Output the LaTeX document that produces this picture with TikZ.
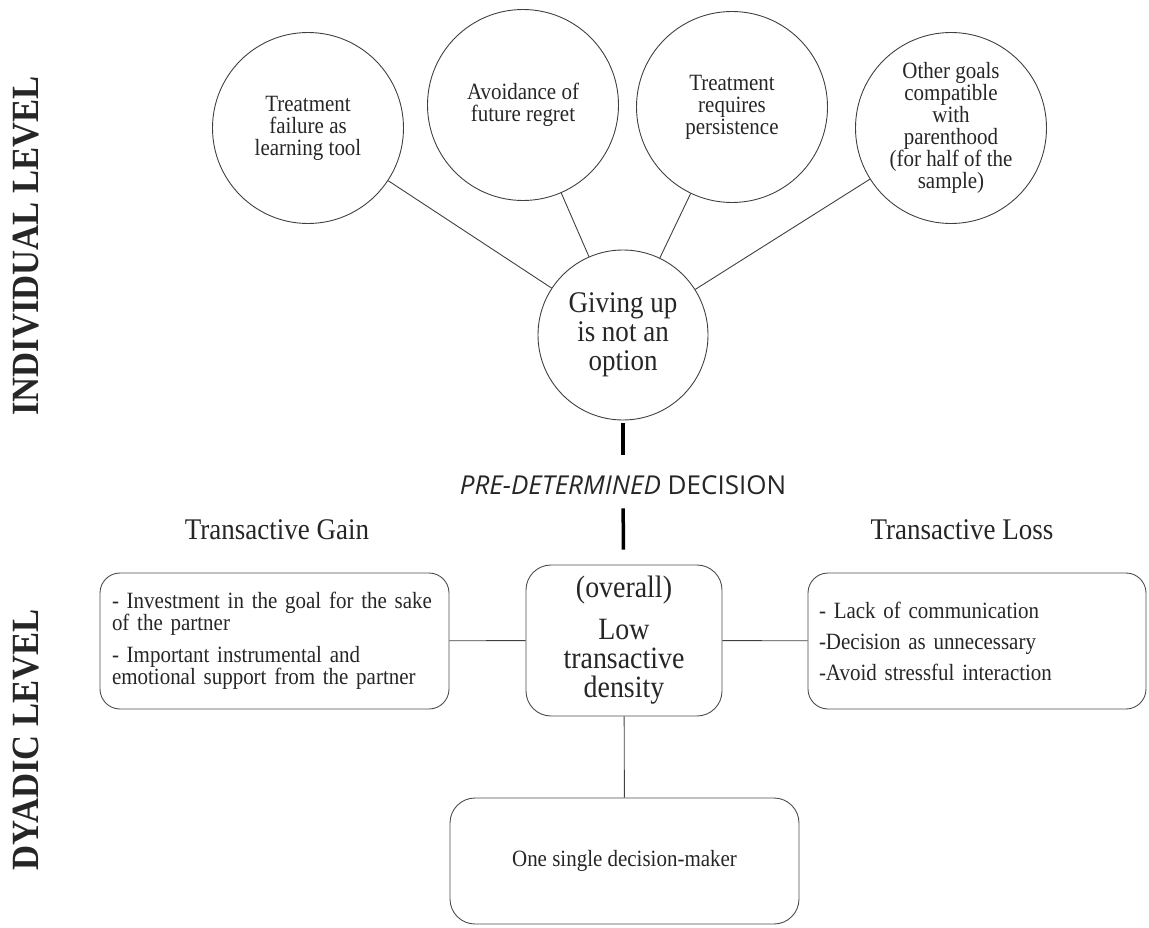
\documentclass[tikz,border=0pt]{standalone}
\usepackage{fontspec}
\setmainfont[FakeStretch=0.9]{Liberation Serif}
\newfontfamily\decfont{Open Sans}

\begin{document}
\begin{tikzpicture}[x=1pt,y=-1pt,
    every node/.style={text=black!85},
    goal/.style={draw=black!75, line width=0.9pt, circle, minimum size=191pt, inner sep=0pt,
      align=center, font=\fontsize{23.3}{22}\selectfont},
    box/.style={draw=black!70, line width=0.9pt, rounded corners=20pt, inner sep=0pt,
      font=\fontsize{23.3}{22}\selectfont},
    lvl/.style={rotate=90, font=\fontsize{38.5}{38.5}\selectfont\bfseries},
    head/.style={font=\fontsize{30}{30}\selectfont},
    link/.style={draw=black!75, line width=0.9pt},
    bar/.style={draw=black, line width=3.5pt}
  ]
    \useasboundingbox (0,0) rectangle (1149,928);

    % side labels
    \node[lvl] (indiv) at (26,246) {INDIVIDUAL LEVEL};
    \node[lvl] (dyad) at (26,740) {DYADIC LEVEL};

    % individual level
    \node[goal] (c1) at (308,128) {Treatment\\failure as\\learning tool};
    \node[goal] (c2) at (523,105) {Avoidance of\\future regret};
    \node[goal] (c3) at (732,107) {Treatment\\requires\\persistence};
    \node[goal] (c4) at (951,128) {Other goals\\compatible\\with\\parenthood\\(for half of the\\sample)};
    \node[goal, minimum size=170pt, font=\fontsize{30}{29}\selectfont] (hub) at (623,335)
      {Giving up\\is not an\\option};
    \foreach \g in {c1,c2,c3,c4}
      \draw[link] (\g) -- (hub);

    % decision
    \node[anchor=base, inner sep=0pt, font=\decfont\fontsize{26}{26}\selectfont] (pre) at (623,494)
      {\textit{PRE-DETERMINED} DECISION};

    % dyadic level
    \node[head] (gainhead) at (277,530) {Transactive Gain};
    \node[head] (losshead) at (962,530) {Transactive Loss};

    \node[box, rounded corners=25pt, minimum width=196pt, minimum height=151pt, align=center,
      font=\fontsize{31}{29}\selectfont] (mid) at (624,640.5)
      {(overall)\\[13pt]Low\\transactive\\density};
    \node[box, minimum width=349pt, minimum height=136pt, text width=325pt, align=left] (gain) at (274.5,641)
      {- Investment in the goal for the sake\\of the partner\\[10pt]- Important instrumental and\\emotional support from the partner};
    \node[box, minimum width=338pt, minimum height=136pt, text width=316pt, align=left] (loss) at (977,641)
      {- Lack of communication\\[9pt]-Decision as unnecessary\\[9pt]-Avoid stressful interaction};
    \node[box, rounded corners=25pt, minimum width=349pt, minimum height=126pt] (single) at (624.5,861)
      {One single decision-maker};

    \draw[bar, shorten <=3pt, shorten >=20pt] (hub) -- (pre);
    \draw[bar, shorten <=14pt, shorten >=15pt] (pre) -- (mid);
    \draw[link] (gain) -- (mid);
    \draw[link] (mid) -- (loss);
    \draw[link] (mid) -- (single);
\end{tikzpicture}
\end{document}
